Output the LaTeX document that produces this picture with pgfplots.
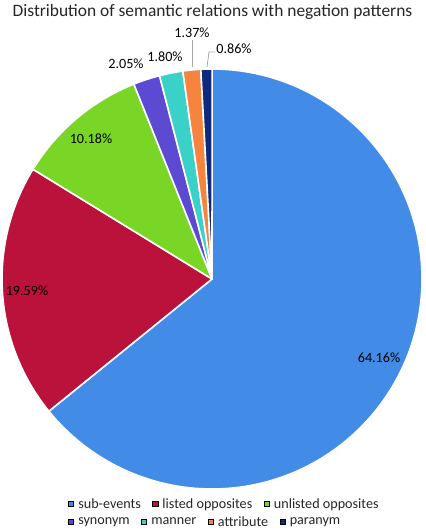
\documentclass[border=0pt]{standalone}
\usepackage{pgfplots}
\pgfplotsset{compat=1.18}
\usepackage{pgfplotstable}
\usepackage{fontspec}
\setmainfont{Carlito}

\definecolor{c0}{RGB}{66,140,232}
\definecolor{c1}{RGB}{186,18,58}
\definecolor{c2}{RGB}{122,214,38}
\definecolor{c3}{RGB}{92,74,210}
\definecolor{c4}{RGB}{58,210,200}
\definecolor{c5}{RGB}{246,132,62}
\definecolor{c6}{RGB}{14,42,122}

% share of each relation, in %, clockwise from 12 o'clock
\pgfplotstableread{
label value
sub-events 64.16
listed 19.59
unlisted 10.18
synonym 2.05
manner 1.80
attribute 1.37
paranym 0.86
}\slices

\newcommand\lab{\fontsize{14.2}{16}\selectfont}

\pgfplotsset{
  base/.style={
    width=425bp, height=530bp, scale only axis,
    xmin=0, xmax=425, ymin=0, ymax=530,
    hide axis, clip=false,
  },
  sq/.style={legend image code/.code={\fill[##1] (0bp,-2.6bp) rectangle (5.2bp,2.6bp);}},
  leg/.style={
    legend columns=-1,
    legend style={draw=none, fill=none, font=\lab, text=black!85, inner sep=0pt, anchor=west,
      nodes={inner sep=1.5bp},
      /tikz/every odd column/.append style={column sep=3bp},
      /tikz/every even column/.append style={column sep=10bp}},
  },
}

\begin{document}
\begin{tikzpicture}
\begin{axis}[base, leg, legend style={at={(axis cs:68,26)}}]
\coordinate (bl) at (axis cs:0,0);
\coordinate (tr) at (axis cs:425,530);

\pgfplotstablegetrowsof{\slices}
\pgfmathtruncatemacro\nrows{\pgfplotsretval-1}
\def\angA{90}
\pgfplotsforeachungrouped \i in {0,...,\nrows}{%
  \pgfplotstablegetelem{\i}{value}\of\slices
  \pgfmathsetmacro\angB{\angA-3.6*\pgfplotsretval}%
  \edef\slicecmd{\noexpand\fill[c\i, draw=white, line width=1.6bp, line join=round]
    (axis cs:212,251) -- ++(\angA:210bp) arc[start angle=\angA, end angle=\angB, radius=210bp] -- cycle;}%
  \slicecmd
  \global\let\angA\angB
}

% data labels
\node[font=\lab] at (axis cs:379,172) {64.16\%};
\node[font=\lab] at (axis cs:27,239) {19.59\%};
\node[font=\lab] at (axis cs:91,391) {10.18\%};
\node[font=\lab] at (axis cs:126,466) {2.05\%};
\node[font=\lab] at (axis cs:165,473) {1.80\%};
\node[font=\lab] at (axis cs:192,497) {1.37\%};
\node[font=\lab] at (axis cs:234,481) {0.86\%};
\draw[gray!70, line width=0.8bp] (axis cs:192,490) -- (axis cs:192,463);
\draw[gray!70, line width=0.8bp] (axis cs:207,463) -- (axis cs:209,478) -- (axis cs:215,478);

\node[font=\fontsize{17.5}{20}\selectfont, text=black!85] at (axis cs:212.5,518)
  {Distribution of semantic relations with negation patterns};

\addlegendimage{sq, fill=c0}\addlegendentry{sub-events}
\addlegendimage{sq, fill=c1}\addlegendentry{listed opposites}
\addlegendimage{sq, fill=c2}\addlegendentry{unlisted opposites}
\end{axis}

\begin{axis}[base, leg, legend style={at={(axis cs:68,8)}}]
\addlegendimage{sq, fill=c3}\addlegendentry{synonym}
\addlegendimage{sq, fill=c4}\addlegendentry{manner}
\addlegendimage{sq, fill=c5}\addlegendentry{attribute}
\addlegendimage{sq, fill=c6}\addlegendentry{paranym}
\end{axis}
\pgfresetboundingbox
\useasboundingbox (bl) rectangle (tr);
\end{tikzpicture}
\end{document}
